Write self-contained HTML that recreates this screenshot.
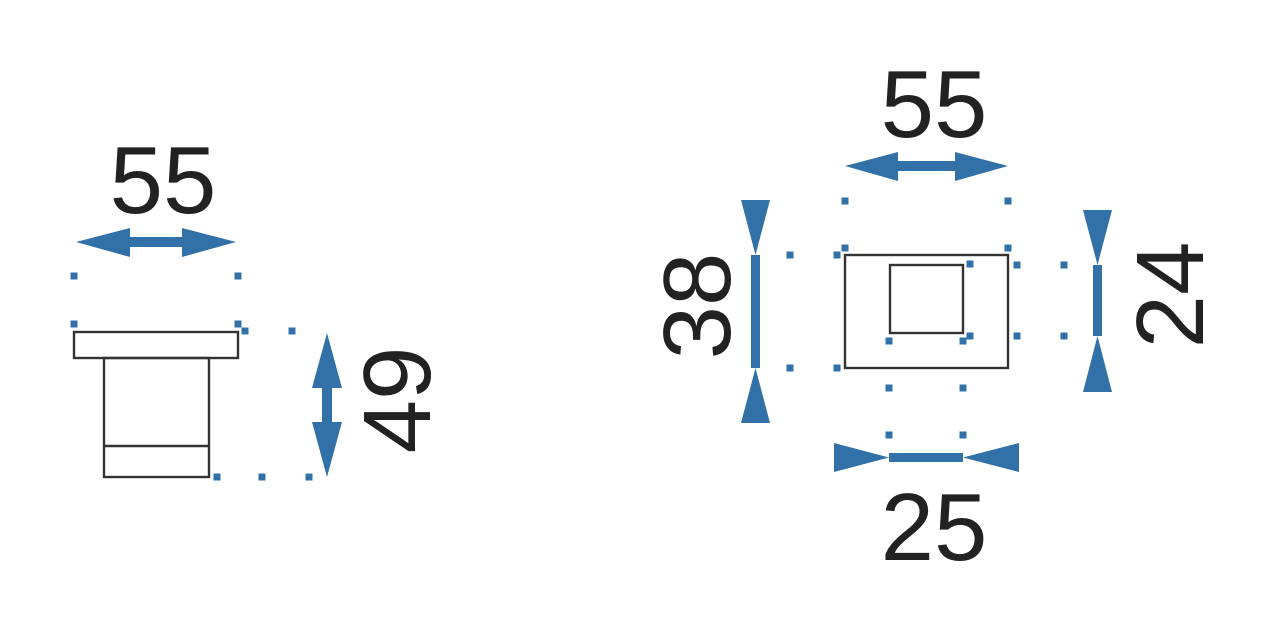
<!DOCTYPE html>
<html><head><meta charset="utf-8"><style>
html,body{margin:0;padding:0;background:#fff;}
svg{display:block}
text{font-family:"Liberation Sans",sans-serif;font-size:96px;fill:#222;}
</style></head><body>
<svg width="1267" height="642" viewBox="0 0 1267 642" xmlns="http://www.w3.org/2000/svg">
<g fill="none" stroke="#333" stroke-width="2.4">
<rect x="74" y="332" width="164" height="26"/>
<rect x="104" y="358" width="105" height="119"/>
<line x1="104" y1="446" x2="209" y2="446"/>
<rect x="845" y="255" width="163" height="113"/>
<rect x="890" y="265" width="73" height="68"/>
</g>
<g fill="#3270a8">
<g transform="translate(-3.5,-3.5)">
<rect x="74" y="276" width="7" height="7"/><rect x="238" y="276" width="7" height="7"/>
<rect x="74" y="324" width="7" height="7"/><rect x="238" y="324" width="7" height="7"/>
<rect x="245" y="331" width="7" height="7"/><rect x="292" y="331" width="7" height="7"/>
<rect x="217" y="477" width="7" height="7"/><rect x="262" y="477" width="7" height="7"/><rect x="309" y="477" width="7" height="7"/>
<rect x="845" y="201" width="7" height="7"/><rect x="1008" y="201" width="7" height="7"/>
<rect x="845" y="248" width="7" height="7"/><rect x="1008" y="248" width="7" height="7"/>
<rect x="790" y="255" width="7" height="7"/><rect x="837" y="255" width="7" height="7"/>
<rect x="790" y="368" width="7" height="7"/><rect x="837" y="368" width="7" height="7"/>
<rect x="970" y="264" width="7" height="7"/><rect x="1017" y="265" width="7" height="7"/><rect x="1064" y="265" width="7" height="7"/>
<rect x="970" y="336" width="7" height="7"/><rect x="1017" y="336" width="7" height="7"/><rect x="1064" y="336" width="7" height="7"/>
<rect x="889" y="341" width="7" height="7"/><rect x="963" y="341" width="7" height="7"/>
<rect x="889" y="388" width="7" height="7"/><rect x="963" y="388" width="7" height="7"/>
<rect x="889" y="435" width="7" height="7"/><rect x="963" y="435" width="7" height="7"/>
</g>
<polygon points="76,242 130,228 130,237 182,237 182,228 236,242 182,257 182,247 130,247 130,257"/>
<polygon points="327,333 342,388 332,388 332,422 342,422 327,477 312,422 322,422 322,388 312,388"/>
<polygon points="845,166 898,152 898,161 955,161 955,152 1008,166 955,181 955,171 898,171 898,181"/>
<rect x="751" y="255" width="9" height="113"/>
<polygon points="741,200 770,200 755.5,255"/>
<polygon points="741,423 770,423 755.5,368"/>
<rect x="1093" y="265" width="9" height="71"/>
<polygon points="1083,210 1112,210 1097.5,265"/>
<polygon points="1083,392 1112,392 1097.5,336"/>
<rect x="889" y="453" width="74" height="9"/>
<polygon points="834,443 834,472 889,457.5"/>
<polygon points="1019,443 1019,472 963,457.5"/>
</g>
<text x="163" y="213" text-anchor="middle">55</text>
<text x="934" y="137" text-anchor="middle">55</text>
<text x="934" y="560" text-anchor="middle">25</text>
<text transform="translate(430,400) rotate(-90)" text-anchor="middle">49</text>
<text transform="translate(730,306) rotate(-90)" text-anchor="middle">38</text>
<text transform="translate(1203,295) rotate(-90)" text-anchor="middle">24</text>
</svg>
</body></html>
